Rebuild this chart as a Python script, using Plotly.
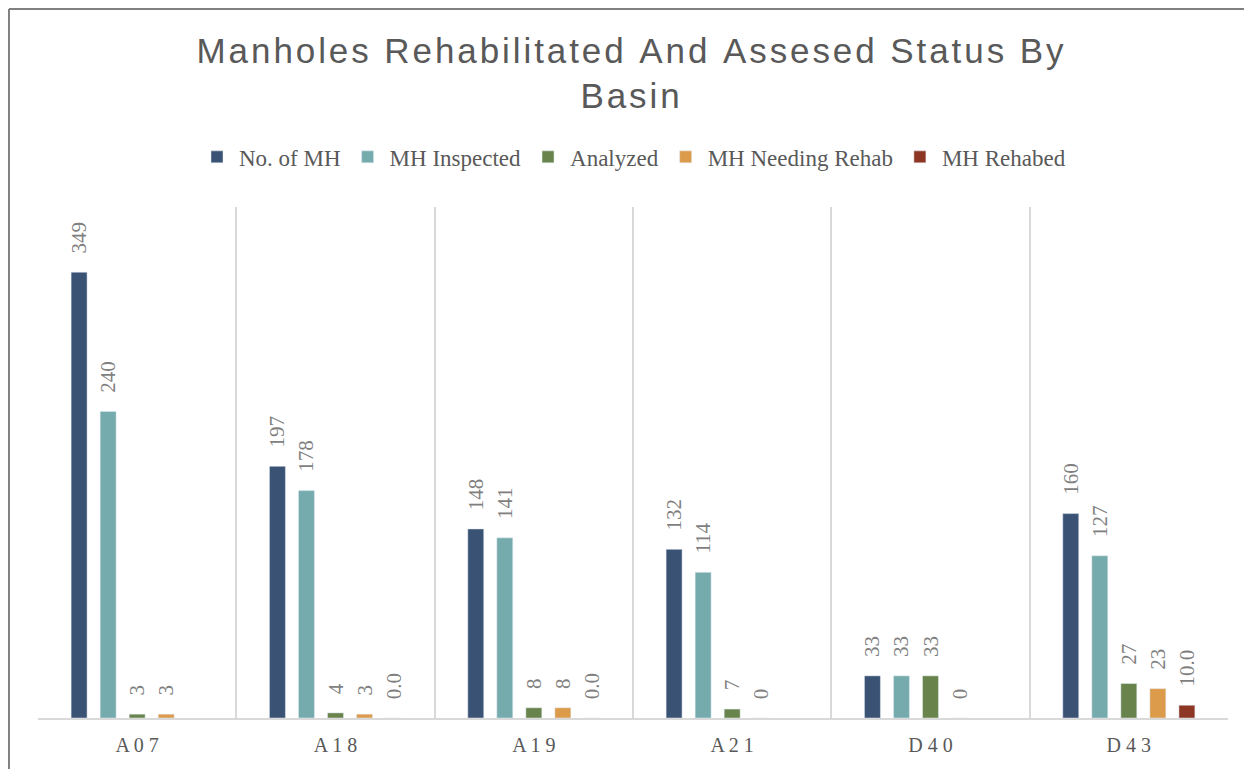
import plotly.graph_objects as go

basins = ["A07", "A18", "A19", "A21", "D40", "D43"]
basin_labels = ["A 0 7", "A 1 8", "A 1 9", "A 2 1", "D 4 0", "D 4 3"]
no_of_mh = [349, 197, 148, 132, 33, 160]
mh_inspected = [240, 178, 141, 114, 33, 127]
analyzed = [3, 4, 8, 7, 33, 27]
mh_needing_rehab = [3, 3, 8, 0, 0, 23]
mh_rehabed = [None, 0.0, 0.0, None, None, 10.0]

series = [
    ("No. of MH", no_of_mh, "#3a5273", "%{y:.0f}"),
    ("MH Inspected", mh_inspected, "#76abae", "%{y:.0f}"),
    ("Analyzed", analyzed, "#68844c", "%{y:.0f}"),
    ("MH Needing Rehab", mh_needing_rehab, "#dc9a4b", "%{y:.0f}"),
    ("MH Rehabed", mh_rehabed, "#8e3624", "%{y:.1f}"),
]

pad = "\u00a0\u00a0\u00a0"

fig = go.Figure()
for name, vals, color, tmpl in series:
    fig.add_trace(go.Bar(
        x=basins, y=vals, name=name, marker_color=color,
        texttemplate=pad + tmpl, textposition="outside", textangle=-90,
        constraintext="none",
        textfont=dict(family="Liberation Serif", size=21, color="#7f7f7f"),
        cliponaxis=False,
    ))

title_text = "Manholes Rehabilitated And Assesed Status By<br>Basin"
title_spaced = "<br>".join("\u200a".join(line) for line in title_text.split("<br>"))

# page is offset by an 8px body margin; figure coordinates below account for it
fig.update_layout(
    width=1244, height=761,
    paper_bgcolor="white", plot_bgcolor="white",
    margin=dict(l=30, r=24, t=199, b=51),
    barmode="group", bargap=0.268, bargroupgap=0.45,
    title=dict(text=title_spaced, x=0.5, xanchor="center", y=0.928, yanchor="top",
               font=dict(family="Liberation Sans", size=35, color="#595959")),
    legend=dict(orientation="h", x=0.5, xanchor="center", y=1.098, yanchor="middle",
                font=dict(family="Liberation Serif", size=23, color="#595959"),
                itemwidth=34, traceorder="normal"),
    xaxis=dict(type="category", tickmode="array", tickvals=basins, ticktext=basin_labels,
               tickson="boundaries", showgrid=True, gridcolor="#d9d9d9", gridwidth=2,
               showline=True, linecolor="#d9d9d9", linewidth=2, ticks="",
               ticklabelstandoff=8,
               tickfont=dict(family="Liberation Serif", size=20, color="#595959")),
    yaxis=dict(range=[0, 400], visible=False, showgrid=False),
    shapes=[
        dict(type="line", xref="paper", yref="paper", x0=-0.0244, x1=-0.0244, y0=-0.2, y1=1.3875,
             line=dict(color="#808080", width=2)),
        dict(type="line", xref="paper", yref="paper", x0=-0.0244, x1=1.1, y0=1.3875, y1=1.3875,
             line=dict(color="#808080", width=2)),
    ],
)

fig.write_html("out.html")
